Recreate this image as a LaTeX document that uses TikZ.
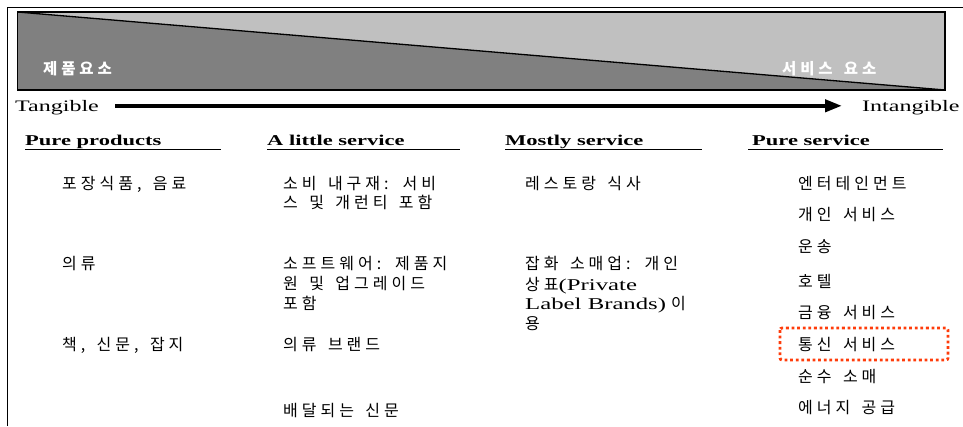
\documentclass[tikz,border=0pt]{standalone}
\usepackage{fontspec}
\setmainfont{Liberation Serif}[FakeStretch=1.5]
\newfontfamily\kr{Noto Sans CJK KR}[LetterSpace=25,WordSpace=2.2]
\newfontfamily\krw{Noto Sans CJK KR}[LetterSpace=25,WordSpace=1.5]
\usetikzlibrary{arrows.meta}
\definecolor{darkg}{HTML}{808080}
\definecolor{lightg}{HTML}{C0C0C0}
\definecolor{hl}{RGB}{255,60,10}
\newcommand\latn[1]{{\normalfont\fontsize{16.5}{19}\selectfont #1}}
\begin{document}
\begin{tikzpicture}[x=1pt,y=-1pt,
  item/.style={anchor=base west, inner sep=0pt, font=\kr\fontsize{16}{19}\selectfont},
  head/.style={anchor=base west, inner sep=0pt, font=\bfseries\fontsize{15}{18}\selectfont},
  axis/.style={anchor=base west, inner sep=0pt, font=\fontsize{16}{19}\selectfont},
  wlabel/.style={anchor=base west, inner sep=0pt, text=white, font=\krw\bfseries\fontsize{15.5}{18}\selectfont},
  uline/.style={line width=1.2pt},
  bigarrow/.style={line width=4pt, -{Triangle[length=17pt,width=12pt]}},
  hlbox/.style={draw=hl, line width=2.8pt, dash pattern=on 2.8pt off 2.8pt, rounded corners=2pt}]
\useasboundingbox (0,0) rectangle (963,426);
% outer frame (left and top)
\draw[line width=1.1pt] (7.3,426) -- (7.3,7.3) -- (963,7.3);
% gray band
\fill[lightg] (17.5,12) -- (945,12) -- (945,90) -- cycle;
\fill[darkg] (17.5,12) -- (17.5,90) -- (945,90) -- cycle;
\draw[line width=1.3pt] (17.5,12) -- (945,90);
\draw[line width=1.3pt] (17.5,12) rectangle (945,90);
\node[wlabel] (prod) at (43,74) {제품요소};
\node[wlabel] (serv) at (782,74.5) {서비스 요소};
% axis
\node[axis] (tan) at (15,111.5) {Tangible};
\node[axis] (intan) at (862,111) {Intangible};
\coordinate (a1) at (115,105.8);
\coordinate (a2) at (842,105.8);
\draw[bigarrow] (a1) -- (a2);
% headers
\node[head] (h1) at (25,145.5) {Pure products};
\node[head] (h2) at (267,145.5) {A little service};
\node[head] (h3) at (505,145.5) {Mostly service};
\node[head] (h4) at (752,145.5) {Pure service};
\coordinate (u1) at (221,149.5);
\coordinate (u2) at (460,149.5);
\coordinate (u3) at (702,149.5);
\coordinate (u4) at (943,149.5);
\coordinate (s4) at (748,149.5);
\draw[uline] (h1.base west |- u1) -- (u1);
\draw[uline] (h2.base west |- u2) -- (u2);
\draw[uline] (h3.base west |- u3) -- (u3);
\draw[uline] (s4) -- (u4);
% column 1
\node[item] (c1a) at (62,189.5) {포장식품, 음료};
\node[item] (c1b) at (62,269) {의류};
\node[item] (c1c) at (62,350) {책, 신문, 잡지};
% column 2
\node[item] (c2a1) at (283,189.5) {소비 내구재: 서비};
\node[item] (c2a2) at (283,208.5) {스 및 개런티 포함};
\node[item] (c2b1) at (283,269) {소프트웨어: 제품지};
\node[item] (c2b2) at (283,289) {원 및 업그레이드};
\node[item] (c2b3) at (283,309) {포함};
\node[item] (c2c) at (283,350) {의류 브랜드};
\node[item] (c2d) at (283,416) {배달되는 신문};
% column 3
\node[item] (c3a) at (525,189.5) {레스토랑 식사};
\node[item] (c3b1) at (525,269) {잡화 소매업: 개인};
\node[item] (c3b2) at (525,290) {상표\latn{(Private}};
\node[item] (c3b3) at (525,309) {\latn{Label Brands)}\hspace{5pt}이};
\node[item] (c3b4) at (525,329) {용};
% column 4
\node[item] (c4a) at (798,189.5) {엔터테인먼트};
\node[item] (c4b) at (798,220.5) {개인 서비스};
\node[item] (c4c) at (798,252) {운송};
\node[item] (c4d) at (798,287) {호텔};
\node[item] (c4e) at (798,318.5) {금융 서비스};
\node[item] (c4f) at (798,350) {통신 서비스};
\node[item] (c4g) at (798,382) {순수 소매};
\node[item] (c4h) at (798,413.5) {에너지 공급};
% highlight box
\draw[hlbox] (780,328) rectangle (948,360);
\end{tikzpicture}
\end{document}
